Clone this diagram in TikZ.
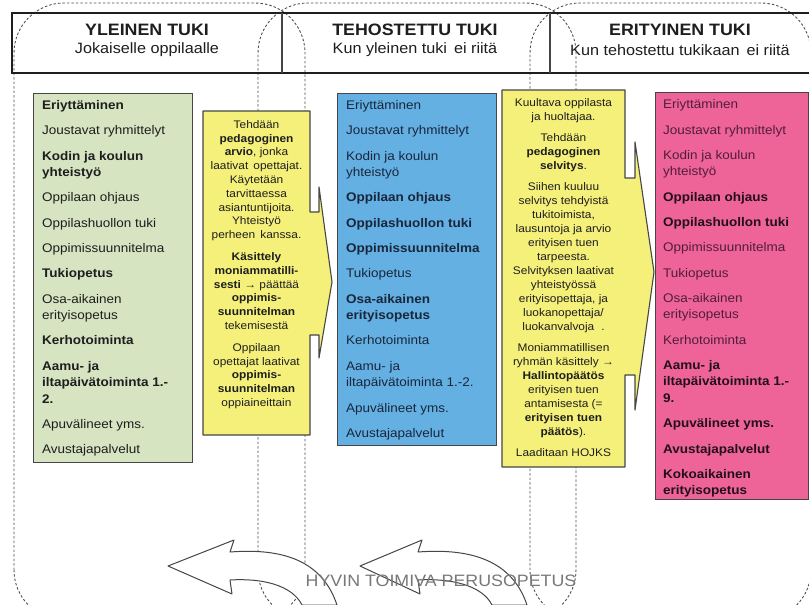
\documentclass[tikz,border=0pt]{standalone}
\usepackage{fontspec}
\setmainfont{Liberation Sans}[FakeStretch=1.08]
\definecolor{gfill}{RGB}{214,228,194}
\definecolor{bfill}{RGB}{100,176,226}
\definecolor{yfill}{RGB}{245,240,122}
\definecolor{pfill}{RGB}{238,100,152}
\definecolor{edge}{RGB}{70,70,70}
\definecolor{dashgray}{RGB}{80,80,80}
\definecolor{txt}{RGB}{30,30,30}
\definecolor{btxt}{RGB}{25,38,60}
\definecolor{ptxt}{RGB}{80,30,55}
\definecolor{pbold}{RGB}{35,15,25}
\definecolor{bottomtxt}{RGB}{120,120,120}
\begin{document}
\begin{tikzpicture}[x=1pt,y=-1pt,
  dashcol/.style={draw=dashgray, line width=0.9pt, dash pattern=on 2.5pt off 2pt, rounded corners=50pt},
  listbox/.style={draw=edge, line width=1.1pt, inner sep=0pt, anchor=north west},
  yshape/.style={draw=edge, line width=1.1pt, fill=yfill, line join=round},
  ltext/.style={align=left, inner sep=0pt, anchor=north west, font=\fontsize{12.5}{16.5}\selectfont},
  ytext/.style={align=center, inner sep=0pt, anchor=north, text=txt, font=\fontsize{11}{13.8}\selectfont},
  htitle/.style={inner sep=0pt, text=txt, font=\fontsize{16.5}{18}\selectfont\bfseries},
  hsub/.style={inner sep=0pt, text=txt, font=\fontsize{15}{18}\selectfont},
  bigarrow/.style={draw=edge, line width=1pt, fill=white, line join=round}
]
\useasboundingbox (0,0) rectangle (809,605);
\fill[white] (0,0) rectangle (809,605);

% dashed column outlines
\draw[dashcol] (14,620) rectangle (305,3);
\draw[dashcol] (258,620) rectangle (576,3);
\draw[dashcol] (530,620) rectangle (811,3);

% header
\draw[draw=txt, line width=2.2pt] (12,13) rectangle (815,73);
\coordinate (d1t) at (282,13);
\coordinate (d1b) at (282,73);
\coordinate (d2t) at (550,13);
\coordinate (d2b) at (550,73);
\draw[draw=edge, line width=1.3pt] (d1t) -- (d1b);
\draw[draw=edge, line width=1.3pt] (d2t) -- (d2b);
\node[htitle] (h1) at (147,30) {YLEINEN TUKI};
\node[hsub] (s1) at (147,50) {Jokaiselle oppilaalle};
\node[htitle] (h2) at (415,30) {TEHOSTETTU TUKI};
\node[hsub] (s2) at (415,50) {Kun yleinen tuki\, ei riitä};
\node[htitle] (h3) at (680,30) {ERITYINEN TUKI};
\node[hsub] (s3) at (680,50) {Kun tehostettu tukikaan\, ei riitä};

% colored boxes
\node[listbox, fill=gfill, minimum width=159pt, minimum height=369pt] (gbox) at (33,93) {};
\node[listbox, fill=bfill, minimum width=159pt, minimum height=352pt] (bbox) at (337,93) {};
\node[listbox, fill=pfill, minimum width=153pt, minimum height=407pt] (pbox) at (655,92) {};

% yellow arrow callouts
\draw[yshape] (203,111) -- (310,111) -- (310,212) -- (319,212) -- (319,187) -- (332,282)
  -- (319,358) -- (319,335) -- (310,335) -- (310,435) -- (203,435) -- cycle;
\draw[yshape] (502,90) -- (625,90) -- (625,178) -- (635,178) -- (635,142) -- (654,272)
  -- (635,410) -- (635,375) -- (625,375) -- (625,467) -- (502,467) -- cycle;

% green list
\node[ltext, text=txt] (gtext) at (42,97.8) {\strut\textbf{Eriyttäminen}\\[8.8pt]
Joustavat ryhmittelyt\\[8.8pt]
\textbf{Kodin ja koulun}\\\textbf{yhteistyö}\\[8.8pt]
Oppilaan ohjaus\\[8.8pt]
Oppilashuollon tuki\\[8.8pt]
Oppimissuunnitelma\\[8.8pt]
\textbf{Tukiopetus}\\[8.8pt]
Osa-aikainen\\erityisopetus\\[8.8pt]
\textbf{Kerhotoiminta}\\[8.8pt]
\textbf{Aamu- ja}\\\textbf{iltapäivätoiminta 1.-}\\\textbf{2.}\\[8.8pt]
Apuvälineet yms.\\[8.8pt]
Avustajapalvelut};

% blue list
\node[ltext, text=btxt] (btext) at (346,97.8) {\strut Eriyttäminen\\[8.8pt]
Joustavat ryhmittelyt\\[8.8pt]
Kodin ja koulun\\yhteistyö\\[8.8pt]
\textbf{Oppilaan ohjaus}\\[8.8pt]
\textbf{Oppilashuollon tuki}\\[8.8pt]
\textbf{Oppimissuunnitelma}\\[8.8pt]
Tukiopetus\\[8.8pt]
\textbf{Osa-aikainen}\\\textbf{erityisopetus}\\[8.8pt]
Kerhotoiminta\\[8.8pt]
Aamu- ja\\iltapäivätoiminta 1.-2.\\[8.8pt]
Apuvälineet yms.\\[8.8pt]
Avustajapalvelut};

% pink list
\node[ltext, text=ptxt] (ptext) at (663,97) {\strut Eriyttäminen\\[8.8pt]
Joustavat ryhmittelyt\\[8.8pt]
Kodin ja koulun\\yhteistyö\\[8.8pt]
\textcolor{pbold}{\textbf{Oppilaan ohjaus}}\\[8.8pt]
\textcolor{pbold}{\textbf{Oppilashuollon tuki}}\\[8.8pt]
Oppimissuunnitelma\\[8.8pt]
Tukiopetus\\[8.8pt]
Osa-aikainen\\erityisopetus\\[8.8pt]
Kerhotoiminta\\[8.8pt]
\textcolor{pbold}{\textbf{Aamu- ja}}\\\textcolor{pbold}{\textbf{iltapäivätoiminta 1.-}}\\\textcolor{pbold}{\textbf{9.}}\\[8.8pt]
\textcolor{pbold}{\textbf{Apuvälineet yms.}}\\[8.8pt]
\textcolor{pbold}{\textbf{Avustajapalvelut}}\\[8.8pt]
\textcolor{pbold}{\textbf{Kokoaikainen}}\\\textcolor{pbold}{\textbf{erityisopetus}}};

% yellow texts
\node[ytext] (y1text) at (256.5,118.5) {\strut Tehdään\\
\textbf{pedagoginen}\\
\textbf{arvio}, jonka\\
laativat\, opettajat.\\
Käytetään\\
tarvittaessa\\
asiantuntijoita.\\
Yhteistyö\\
perheen\, kanssa.\\[8pt]
\textbf{Käsittely}\\
\textbf{moniammatilli-}\\
\textbf{sesti} → päättää\\
\textbf{oppimis-}\\
\textbf{suunnitelman}\\
tekemisestä\\[8pt]
Oppilaan\\
opettajat laativat\\
\textbf{oppimis-}\\
\textbf{suunnitelman}\\
oppiaineittain};

\node[ytext, font=\fontsize{11}{14}\selectfont] (y2text) at (563.5,96.5) {\strut Kuultava oppilasta\\
ja huoltajaa.\\[7pt]
Tehdään\\
\textbf{pedagoginen}\\
\textbf{selvitys}.\\[7pt]
Siihen kuuluu\\
selvitys tehdyistä\\
tukitoimista,\\
lausuntoja ja arvio\\
erityisen tuen\\
tarpeesta.\\
Selvityksen laativat\\
yhteistyössä\\
erityisopettaja, ja\\
luokanopettaja/\\
luokanvalvoja\,\, .\\[7pt]
Moniammatillisen\\
ryhmän käsittely →\\
\textbf{Hallintopäätös}\\
erityisen tuen\\
antamisesta (=\\
\textbf{erityisen tuen}\\
\textbf{päätös}).\\[7pt]
Laaditaan HOJKS};

% bottom cycle arrows
\draw[bigarrow] (168,566) -- (234,540) -- (230,552) .. controls (282,548) and (322,560) .. (337,605)
  -- (302,605) .. controls (292,585) and (262,578) .. (230,580) -- (232,594) -- cycle;
\draw[bigarrow] (360,566) -- (422,540) -- (418,552) .. controls (470,548) and (512,560) .. (527,605)
  -- (492,605) .. controls (482,585) and (450,578) .. (418,580) -- (420,594) -- cycle;
\node[inner sep=0pt, text=bottomtxt, font=\fontsize{16.5}{18}\selectfont] (bottom) at (441,581) {HYVIN TOIMIVA PERUSOPETUS};
\end{tikzpicture}
\end{document}
